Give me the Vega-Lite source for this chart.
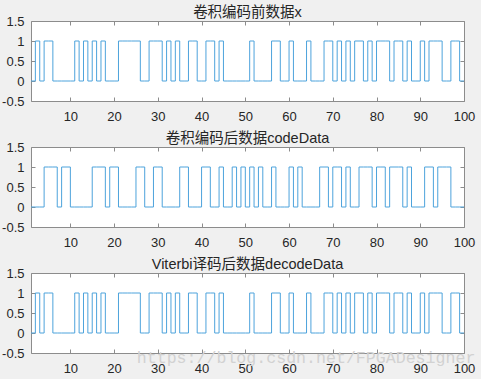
{
  "$schema": "https://vega.github.io/schema/vega-lite/v6.json",
  "background": "#f0f0f0",
  "padding": {"left": 1, "top": 4, "right": 6, "bottom": 4},
  "bounds": "flush",
  "spacing": 46,
  "title": {"text": "https://blog.csdn.net/FPGADesigner", "orient": "bottom", "anchor": "end", "offset": -26, "font": "Liberation Mono", "fontSize": 16.6, "color": "#d2d2d2", "fontWeight": "normal"},
  "datasets": {
    "bits": [
      {"x":1,"a":0,"b":0,"c":0},{"x":2,"a":1,"b":0,"c":1},{"x":3,"a":0,"b":0,"c":0},{"x":4,"a":1,"b":1,"c":1},{"x":5,"a":1,"b":1,"c":1},
      {"x":6,"a":0,"b":1,"c":0},{"x":7,"a":0,"b":0,"c":0},{"x":8,"a":0,"b":1,"c":0},{"x":9,"a":0,"b":1,"c":0},{"x":10,"a":0,"b":0,"c":0},
      {"x":11,"a":1,"b":0,"c":1},{"x":12,"a":0,"b":0,"c":0},{"x":13,"a":1,"b":0,"c":1},{"x":14,"a":0,"b":0,"c":0},{"x":15,"a":1,"b":1,"c":1},
      {"x":16,"a":0,"b":1,"c":0},{"x":17,"a":1,"b":1,"c":1},{"x":18,"a":0,"b":0,"c":0},{"x":19,"a":0,"b":1,"c":0},{"x":20,"a":0,"b":1,"c":0},
      {"x":21,"a":1,"b":0,"c":1},{"x":22,"a":1,"b":0,"c":1},{"x":23,"a":1,"b":0,"c":1},{"x":24,"a":1,"b":0,"c":1},{"x":25,"a":1,"b":1,"c":1},
      {"x":26,"a":0,"b":1,"c":0},{"x":27,"a":0,"b":0,"c":0},{"x":28,"a":1,"b":0,"c":1},{"x":29,"a":1,"b":1,"c":1},{"x":30,"a":1,"b":1,"c":1},
      {"x":31,"a":0,"b":0,"c":0},{"x":32,"a":1,"b":0,"c":1},{"x":33,"a":0,"b":0,"c":0},{"x":34,"a":1,"b":0,"c":1},{"x":35,"a":0,"b":1,"c":0},
      {"x":36,"a":0,"b":1,"c":0},{"x":37,"a":1,"b":0,"c":1},{"x":38,"a":1,"b":0,"c":1},{"x":39,"a":0,"b":0,"c":0},{"x":40,"a":0,"b":1,"c":0},
      {"x":41,"a":1,"b":1,"c":1},{"x":42,"a":1,"b":0,"c":1},{"x":43,"a":0,"b":0,"c":0},{"x":44,"a":1,"b":1,"c":1},{"x":45,"a":0,"b":0,"c":0},
      {"x":46,"a":0,"b":0,"c":0},{"x":47,"a":0,"b":1,"c":0},{"x":48,"a":0,"b":0,"c":0},{"x":49,"a":0,"b":1,"c":0},{"x":50,"a":0,"b":0,"c":0},
      {"x":51,"a":1,"b":1,"c":1},{"x":52,"a":0,"b":0,"c":0},{"x":53,"a":0,"b":1,"c":0},{"x":54,"a":0,"b":0,"c":0},{"x":55,"a":0,"b":0,"c":0},
      {"x":56,"a":1,"b":1,"c":1},{"x":57,"a":1,"b":0,"c":1},{"x":58,"a":0,"b":0,"c":0},{"x":59,"a":0,"b":0,"c":0},{"x":60,"a":1,"b":1,"c":1},
      {"x":61,"a":0,"b":0,"c":0},{"x":62,"a":0,"b":1,"c":0},{"x":63,"a":0,"b":0,"c":0},{"x":64,"a":1,"b":0,"c":1},{"x":65,"a":0,"b":0,"c":0},
      {"x":66,"a":0,"b":0,"c":0},{"x":67,"a":0,"b":1,"c":0},{"x":68,"a":1,"b":1,"c":1},{"x":69,"a":1,"b":0,"c":1},{"x":70,"a":0,"b":1,"c":0},
      {"x":71,"a":1,"b":1,"c":1},{"x":72,"a":0,"b":0,"c":0},{"x":73,"a":1,"b":1,"c":1},{"x":74,"a":0,"b":0,"c":0},{"x":75,"a":1,"b":0,"c":1},
      {"x":76,"a":1,"b":1,"c":1},{"x":77,"a":0,"b":1,"c":0},{"x":78,"a":1,"b":1,"c":1},{"x":79,"a":0,"b":0,"c":0},{"x":80,"a":1,"b":1,"c":1},
      {"x":81,"a":1,"b":1,"c":1},{"x":82,"a":1,"b":0,"c":1},{"x":83,"a":0,"b":1,"c":0},{"x":84,"a":1,"b":1,"c":1},{"x":85,"a":1,"b":1,"c":1},
      {"x":86,"a":0,"b":0,"c":0},{"x":87,"a":1,"b":1,"c":1},{"x":88,"a":0,"b":0,"c":0},{"x":89,"a":0,"b":0,"c":0},{"x":90,"a":1,"b":0,"c":1},
      {"x":91,"a":0,"b":1,"c":0},{"x":92,"a":1,"b":1,"c":1},{"x":93,"a":1,"b":0,"c":1},{"x":94,"a":1,"b":1,"c":1},{"x":95,"a":0,"b":1,"c":0},
      {"x":96,"a":0,"b":1,"c":0},{"x":97,"a":1,"b":0,"c":1},{"x":98,"a":1,"b":0,"c":1},{"x":99,"a":0,"b":0,"c":0},{"x":100,"a":0,"b":0,"c":0}
    ]
  },
  "vconcat": [
    {
      "width": 433, "height": 80,
      "title": {"text": "卷积编码前数据x"},
      "data": {"name": "bits"},
      "layer": [
        {"mark": {"type": "line", "interpolate": "step-after", "color": "#4da3dc", "strokeWidth": 1},
         "encoding": {
           "x": {"field": "x", "type": "quantitative", "scale": {"domain": [1, 100], "nice": false, "zero": false}, "axis": {"orient": "bottom", "values": [10,20,30,40,50,60,70,80,90,100], "title": null, "labelPadding": 13}},
           "y": {"field": "a", "type": "quantitative", "scale": {"domain": [-0.5, 1.5], "nice": false, "zero": false}, "axis": {"orient": "left", "values": [-0.5,0,0.5,1,1.5], "title": null, "labelPadding": 11, "labelExpr": "'' + datum.value"}}
         }},
        {"mark": {"type": "line", "opacity": 0},
         "encoding": {
           "x": {"field": "x", "type": "quantitative", "axis": {"orient": "top", "values": [10,20,30,40,50,60,70,80,90,100], "title": null, "labels": false}},
           "y": {"field": "a", "type": "quantitative", "axis": {"orient": "right", "values": [-0.5,0,0.5,1,1.5], "title": null, "labels": false}}
         }}
      ],
      "resolve": {"axis": {"x": "independent", "y": "independent"}}
    },
    {
      "width": 433, "height": 80,
      "title": {"text": "卷积编码后数据codeData"},
      "data": {"name": "bits"},
      "layer": [
        {"mark": {"type": "line", "interpolate": "step-after", "color": "#4da3dc", "strokeWidth": 1},
         "encoding": {
           "x": {"field": "x", "type": "quantitative", "scale": {"domain": [1, 100], "nice": false, "zero": false}, "axis": {"orient": "bottom", "values": [10,20,30,40,50,60,70,80,90,100], "title": null, "labelPadding": 13}},
           "y": {"field": "b", "type": "quantitative", "scale": {"domain": [-0.5, 1.5], "nice": false, "zero": false}, "axis": {"orient": "left", "values": [-0.5,0,0.5,1,1.5], "title": null, "labelPadding": 11, "labelExpr": "'' + datum.value"}}
         }},
        {"mark": {"type": "line", "opacity": 0},
         "encoding": {
           "x": {"field": "x", "type": "quantitative", "axis": {"orient": "top", "values": [10,20,30,40,50,60,70,80,90,100], "title": null, "labels": false}},
           "y": {"field": "b", "type": "quantitative", "axis": {"orient": "right", "values": [-0.5,0,0.5,1,1.5], "title": null, "labels": false}}
         }}
      ],
      "resolve": {"axis": {"x": "independent", "y": "independent"}}
    },
    {
      "width": 433, "height": 80,
      "title": {"text": "Viterbi译码后数据decodeData"},
      "data": {"name": "bits"},
      "layer": [
        {"mark": {"type": "line", "interpolate": "step-after", "color": "#4da3dc", "strokeWidth": 1},
         "encoding": {
           "x": {"field": "x", "type": "quantitative", "scale": {"domain": [1, 100], "nice": false, "zero": false}, "axis": {"orient": "bottom", "values": [10,20,30,40,50,60,70,80,90,100], "title": null, "labelPadding": 13}},
           "y": {"field": "c", "type": "quantitative", "scale": {"domain": [-0.5, 1.5], "nice": false, "zero": false}, "axis": {"orient": "left", "values": [-0.5,0,0.5,1,1.5], "title": null, "labelPadding": 11, "labelExpr": "'' + datum.value"}}
         }},
        {"mark": {"type": "line", "opacity": 0},
         "encoding": {
           "x": {"field": "x", "type": "quantitative", "axis": {"orient": "top", "values": [10,20,30,40,50,60,70,80,90,100], "title": null, "labels": false}},
           "y": {"field": "c", "type": "quantitative", "axis": {"orient": "right", "values": [-0.5,0,0.5,1,1.5], "title": null, "labels": false}}
         }}
      ],
      "resolve": {"axis": {"x": "independent", "y": "independent"}}
    }
  ],
  "config": {
    "view": {"fill": "white", "stroke": "#8c8c8c", "strokeWidth": 1},
    "axis": {"grid": false, "domain": false, "ticks": true, "tickSize": -4, "tickColor": "#8c8c8c", "tickWidth": 1, "labelFont": "Liberation Sans", "labelFontSize": 13, "labelColor": "#262626", "labelFlush": false, "labelOverlap": false},
    "title": {"font": "Liberation Sans, Noto Sans CJK SC", "fontSize": 14.5, "fontWeight": "normal", "color": "#262626", "offset": -5}
  }
}
